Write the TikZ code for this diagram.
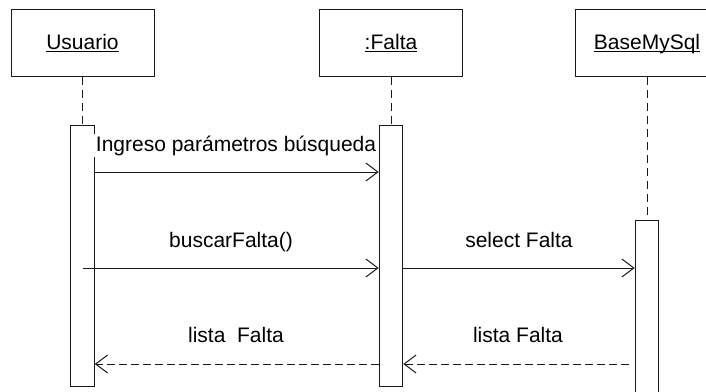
\documentclass[tikz,border=0pt]{standalone}
\usepackage{fontspec}
\setmainfont{Liberation Sans}
\usepackage{tikz}
\usetikzlibrary{arrows.meta,positioning,calc}
\definecolor{lineblack}{RGB}{25,25,25}
\newcommand{\objname}[1]{\setbox0\hbox{#1}\rlap{\rule[-2.8pt]{\wd0}{1pt}}\box0}

\begin{document}
\begin{tikzpicture}[x=1pt,y=-1pt,
		every node/.style={font=\fontsize{21}{25}\selectfont},
		objbox/.style={draw=lineblack,line width=1pt,minimum width=143pt,minimum height=67.5pt,text height=15pt,text depth=3pt,inner sep=0pt},
		actbox/.style={draw=lineblack,line width=1pt,fill=white,minimum width=23.6pt,inner sep=0pt,anchor=north},
		lifeline/.style={draw=lineblack,line width=1pt,dash pattern=on 8pt off 5pt},
		msg/.style={draw=lineblack,line width=1pt,-{Straight Barb[length=12pt,width=18pt]}},
		reply/.style={msg,dash pattern=on 8pt off 4pt},
		msglabel/.style={anchor=base,inner sep=1pt,fill=white}]
			\useasboundingbox (0,0) rectangle (706,391);
			
			\node[objbox] (usr) at (82.5,43) {\objname{Usuario}};
			\node[objbox] (flt) at (391,43) {\objname{:Falta}};
			\node[objbox] (bdd) at (647,43) {\objname{BaseMySql}};
			
			\node[actbox,minimum height=261pt] (usrAct) at (82.5,125) {};
			\node[actbox,minimum height=261pt] (fltAct) at (391,125) {};
			\node[actbox,minimum height=180pt] (bddAct) at (647,220) {};
			
			\draw[lifeline] (usr.south) -- (usrAct.north);
			\draw[lifeline] (flt.south) -- (fltAct.north);
			\draw[lifeline] (bdd.south) -- (bddAct.north);
			
			\coordinate (m1) at (0,172);
			\coordinate (m2) at (0,268);
			\coordinate (m3) at (0,364);
			
			\draw[msg] (usrAct.east |- m1) -- (fltAct.west |- m1);
			\node[msglabel,inner sep=2pt] (lblIngreso) at (236,151) {Ingreso parámetros búsqueda};
			
			\draw[msg] (usrAct.center |- m2) -- (fltAct.west |- m2);
			\node[msglabel] (lblBuscar) at (231,247) {buscarFalta()};
			
			\draw[msg] (fltAct.east |- m2) -- (bddAct.west |- m2);
			\node[msglabel] (lblSelect) at (519,247) {select Falta};
			
			\draw[reply] ($(bddAct.west |- m3)+(-6,0)$) -- (fltAct.east |- m3);
			\node[msglabel] (lblListaB) at (518,342) {lista Falta};
			
			\draw[reply] (fltAct.west |- m3) -- (usrAct.east |- m3);
			\node[msglabel] (lblListaA) at (236,342) {lista\ \ Falta};
			
		\end{tikzpicture}
\end{document}
